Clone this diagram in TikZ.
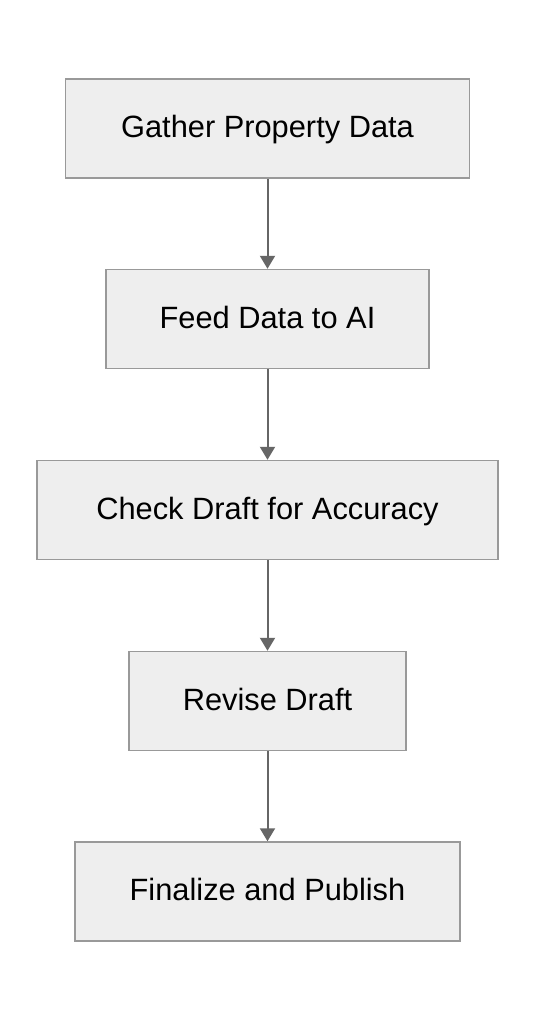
\documentclass[tikz,border=0pt]{standalone}
\usepackage{fontspec}
\setmainfont{Liberation Sans}
\usetikzlibrary{arrows.meta}
\definecolor{boxfill}{HTML}{EEEEEE}
\definecolor{boxline}{HTML}{999999}
\definecolor{arrowcol}{HTML}{666666}
\begin{document}
\begin{tikzpicture}[x=1pt,y=-1pt,
  stepbox/.style={draw=boxline,fill=boxfill,line width=1.5pt,minimum height=99pt,inner sep=0pt,
    text height=22pt,text depth=3.4pt,
    font=\fontsize{30.8}{36}\selectfont,text=black},
  flow/.style={draw=arrowcol,line width=2pt,-{Triangle[width=15pt,length=13pt]}}]
\useasboundingbox (0,0) rectangle (536,1020);
\fill[white] (0,0) rectangle (536,1020);
\node[stepbox,minimum width=404pt] (a) at (267.5,128.5) {Gather Property Data};
\node[stepbox,minimum width=323pt] (b) at (267.5,319) {Feed Data to AI};
\node[stepbox,minimum width=461pt] (c) at (267.5,510) {Check Draft for Accuracy};
\node[stepbox,minimum width=277pt] (d) at (267.5,701) {Revise Draft};
\node[stepbox,minimum width=385pt] (e) at (267.5,891.5) {Finalize and Publish};
\draw[flow] (a) -- (b);
\draw[flow] (b) -- (c);
\draw[flow] (c) -- (d);
\draw[flow] (d) -- (e);
\end{tikzpicture}
\end{document}
